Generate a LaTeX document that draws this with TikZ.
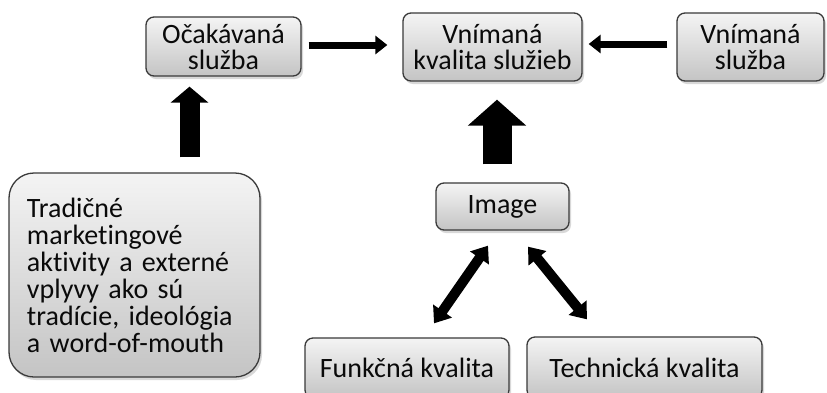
\documentclass[tikz,border=0pt]{standalone}
\usepackage{fontspec}
\setmainfont{Carlito}[Ligatures=NoCommon]
\usetikzlibrary{calc,arrows.meta,shadows}
\definecolor{bordc}{HTML}{3A3A3A}
\definecolor{boxtop}{HTML}{F4F4F4}
\definecolor{boxbot}{HTML}{C4C4C4}
\definecolor{txt}{HTML}{0A0A0A}
\begin{document}
\begin{tikzpicture}[x=1pt,y=-1pt,
  box/.style={draw=bordc, line width=1.3pt, rounded corners=8pt,
    top color=boxtop, bottom color=boxbot,
    drop shadow={shadow xshift=2pt, shadow yshift=-3pt, opacity=0.3},
    inner sep=0pt, align=center, text=txt,
    font=\fontsize{28}{26}\selectfont},
  harrow/.style={draw=black, line width=7pt, -{Triangle[width=18pt,length=12pt]}},
  bigarrowA/.style={draw=black, line width=20pt, -{Triangle[width=37pt,length=16pt]}},
  bigarrowB/.style={draw=black, line width=29pt, -{Triangle[width=57pt,length=26pt]}},
  darrow/.style={draw=black, line width=10pt, {Triangle[width=22pt,length=15pt]}-{Triangle[width=22pt,length=15pt]}},
]
\useasboundingbox (0,0) rectangle (827,392);
\clip (0,0) rectangle (827,392);
\fill[white] (0,0) rectangle (827,392);

\node[box, minimum width=155pt, minimum height=59pt] (ocak) at (223.5,46.5) {Očakávaná\\služba};
\node[box, minimum width=179pt, minimum height=68pt] (vkval) at (492.5,47) {Vnímaná\\kvalita služieb};
\node[box, minimum width=147pt, minimum height=68pt] (vsluz) at (750.5,47) {Vnímaná\\služba};
\node[box, rounded corners=25pt, minimum width=251pt, minimum height=204pt,
  text width=215pt, align=left, inner xsep=18pt, font=\fontsize{28}{27}\selectfont] (trad) at (134.5,275)
  {Tradičné\\marketingové\\aktivity a externé\\vplyvy ako sú\\tradície, ideológia\\a word-of-mouth};
\node[box, minimum width=133pt, minimum height=47pt] (image) at (502.5,206.5) {Image};
\node[box, minimum width=204pt, minimum height=60pt] (funk) at (407,368) {Funkčná kvalita};
\node[box, minimum width=235pt, minimum height=61pt] (tech) at (644.5,367.5) {Technická kvalita};

% horizontal arrows
\draw[harrow, shorten <=7pt, shorten >=15pt] ($(ocak.east)+(0,-1.5)$) -- ($(vkval.west)+(0,-2)$);
\draw[harrow, shorten <=9pt, shorten >=6pt] ($(vsluz.west)+(0,-3)$) -- ($(vkval.east)+(0,-3)$);

% big up arrows
\coordinate (ax1) at (189.5,0);
\draw[bigarrowA, shorten <=15pt, shorten >=10pt] (ax1 |- trad.north) -- (ax1 |- ocak.south);
\coordinate (ax2) at (497,0);
\draw[bigarrowB, shorten <=18pt, shorten >=18pt] (ax2 |- image.north) -- (ax2 |- vkval.south);

% double arrows
\draw[darrow] ($(image.south)+(-14.5,15)$) -- ($(funk.north)+(27,-14)$);
\draw[darrow] ($(image.south)+(25.5,16)$) -- ($(tech.north)+(-57.5,-17)$);
\end{tikzpicture}
\end{document}
